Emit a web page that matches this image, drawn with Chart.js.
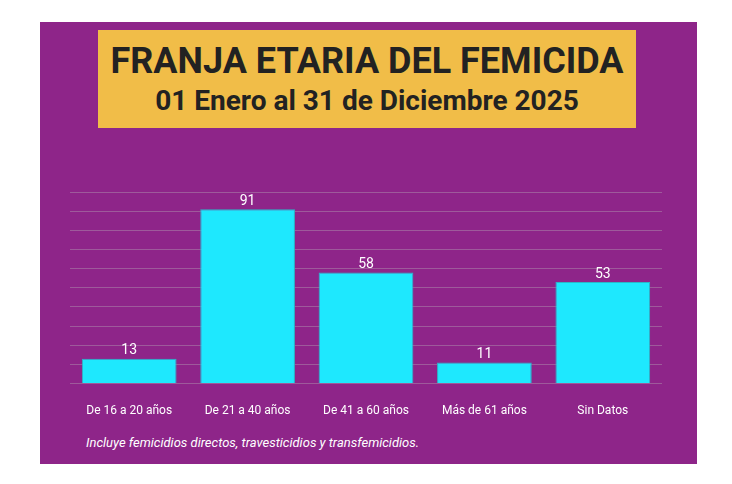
<!DOCTYPE html>
<html>
<head>
<meta charset="utf-8">
<script src="https://cdn.jsdelivr.net/npm/chart.js@4"></script>
<style>
  body { margin: 0; background: #fff; width: 732px; height: 484px; position: relative; font-family: Roboto, sans-serif; }
  #panel { position: absolute; left: 40px; top: 22px; width: 657px; height: 442px; background: #8e2589; }
  #title { position: absolute; left: 58px; top: 8px; width: 538px; height: 98px; background: #f1bd48; text-align: center; color: #222; font-weight: bold; }
  #t1 { font-size: 36px; margin-top: 10px; }
  #t2 { font-size: 28px; margin-top: 2px; }
  #wrap { position: absolute; left: 30px; top: 158px; width: 592px; height: 250px; }
  #note { position: absolute; left: 46px; top: 413px; color: #fff; font-size: 13px; font-style: italic; }
</style>
</head>
<body>
<div id="panel">
  <div id="title"><div id="t1">FRANJA ETARIA DEL FEMICIDA</div><div id="t2">01 Enero al 31 de Diciembre 2025</div></div>
  <div id="wrap"><canvas id="c"></canvas></div>
  <div id="note">Incluye femicidios directos, travesticidios y transfemicidios.</div>
</div>
<script>
const categories = ['De 16 a 20 años', 'De 21 a 40 años', 'De 41 a 60 años', 'Más de 61 años', 'Sin Datos'];
const values = [13, 91, 58, 11, 53];

const valueLabels = {
  id: 'valueLabels',
  afterDatasetsDraw(chart) {
    const ctx = chart.ctx;
    ctx.save();
    ctx.fillStyle = '#fff';
    ctx.font = '14px Roboto';
    ctx.textAlign = 'center';
    ctx.textBaseline = 'bottom';
    chart.getDatasetMeta(0).data.forEach((bar, i) => {
      ctx.fillText(values[i], bar.x, bar.y - 1);
    });
    ctx.restore();
  }
};

new Chart(document.getElementById('c'), {
  type: 'bar',
  data: {
    labels: categories,
    datasets: [{
      data: values,
      backgroundColor: '#1ee8fe',
      borderColor: '#2ab7c8',
      borderWidth: 1,
      barPercentage: 0.8,
      categoryPercentage: 1
    }]
  },
  options: {
    responsive: true,
    maintainAspectRatio: false,
    animation: false,
    layout: { padding: { top: 12, left: 0, right: 0, bottom: 0 } },
    plugins: { legend: { display: false }, tooltip: { enabled: false } },
    scales: {
      x: {
        grid: { display: false },
        border: { display: false },
        ticks: { color: '#fff', font: { family: 'Roboto', size: 12 }, padding: 12 }
      },
      y: {
        min: 0, max: 100,
        ticks: { display: false, stepSize: 10 },
        border: { display: false },
        grid: { color: '#9e5a9b', lineWidth: 1, drawTicks: false }
      }
    }
  },
  plugins: [valueLabels]
});
</script>
</body>
</html>
